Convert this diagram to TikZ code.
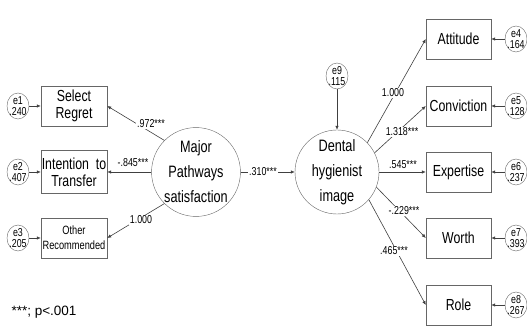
\documentclass[tikz,border=0pt]{standalone}
\usepackage{fontspec}
\setmainfont{Liberation Sans}[FakeStretch=0.77]
\newfontfamily\notefont{Liberation Sans}
\usetikzlibrary{arrows.meta,shapes.geometric}

\newcommand{\ErrTerm}[4]{
    \node[err] (#1) at (#2) {e#3\\.#4};
}

\begin{document}
\begin{tikzpicture}[x=1pt, y=-1pt,
        obs/.style={draw=black!60, minimum width=66pt, minimum height=40pt, inner sep=0pt, align=center, font=\fontsize{16}{17}\selectfont},
        lat/.style={draw=black!60, circle, minimum size=84pt, inner sep=0pt, align=center, font=\fontsize{16.5}{25}\selectfont},
        err/.style={draw=black!60, ellipse, minimum width=22pt, minimum height=26pt, inner sep=-1.5pt, align=center, font=\fontsize{11.5}{11.5}\selectfont},
        arr/.style={draw=black!75, line width=0.6pt, -{Latex[length=4pt,width=3.5pt]}},
        coef/.style={fill=white, inner sep=1pt, font=\fontsize{11.5}{11}\selectfont}
    ]
  \useasboundingbox (0,0) rectangle (527,328);

  %%% Left side: Major Pathways satisfaction
  \node[obs] (sel) at (74,106) {Select\\Regret};
  \node[obs, minimum height=43pt] (int) at (74,172) {Intention\ \ to\\Transfer};
  \node[obs, font=\fontsize{12}{15}\selectfont] (oth) at (74,238) {Other\\Recommended};
  \node[lat] (major) at (196,172) {Major\\Pathways\\satisfaction};
  % error terms
  \foreach \nm/\y/\e/\v in {sel/106/1/240, int/172/2/407, oth/238/3/205} {
      \ErrTerm{e\e}{18,\y}{\e}{\v}
      \draw[arr] (e\e) -- (\nm);
  }
  \draw[arr] (major.135) -- (sel.east) node[coef] at (151,124) {.972***};
  \draw[arr] (major.west) -- (int.east) node[coef] at (133,163) {-.845***};
  \draw[arr] (major.225) -- (oth.east) node[coef] at (141,220) {1.000};

  %%% Right side: Dental hygienist image
  \node[lat] (dental) at (337,172) {Dental\\hygienist\\image};
  \ErrTerm{e9}{337,76}{9}{115}
  \draw[arr] (e9) -- (dental);
  \draw[arr] (major) -- (dental) node[coef] at (263,172) {.310***};
  \foreach \nm/\y/\txt/\e/\v in {att/39/Attitude/4/164, con/106/Conviction/5/128,
      exp/172/Expertise/6/237, wor/238/Worth/7/393, rol/305/Role/8/267} {
      \node[obs, minimum width=65pt] (\nm) at (458.5,\y) {\txt};
      \ErrTerm{e\e}{516,\y}{\e}{\v}
      \draw[arr] (e\e) -- (\nm);
  }
  \draw[arr] (dental.44) -- (att.west) node[coef] at (393,93) {1.000};
  \draw[arr] (dental.27) -- (con.west) node[coef] at (402,132) {1.318***};
  \draw[arr] (dental) -- (exp) node[coef] at (403,165) {.545***};
  \draw[arr] (dental.-21) -- (wor.west) node[coef] at (404,211) {-.229***};
  \draw[arr] (dental.-41) -- (rol.west) node[coef] at (394,251) {.465***};

  % footnote
  \node[font=\notefont\fontsize{13.5}{13}\selectfont, anchor=west] (note) at (8,312) {***; p<.001};
\end{tikzpicture}
\end{document}
